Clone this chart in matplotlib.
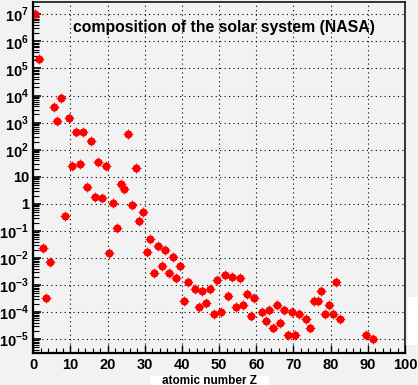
import matplotlib
matplotlib.use('Agg')
import matplotlib.pyplot as plt
import matplotlib.ticker as ticker
from matplotlib.patches import Rectangle
import numpy as np

plt.rcParams['font.family'] = ['Liberation Sans', 'DejaVu Sans']
plt.rcParams['font.weight'] = 'bold'
plt.rcParams['mathtext.fontset'] = 'custom'
plt.rcParams['mathtext.rm'] = 'Liberation Sans:bold'
plt.rcParams['mathtext.bf'] = 'Liberation Sans:bold'

# atomic number and relative abundance (H = 1e7)
Z = [1, 2, 3, 4, 5, 6, 7, 8, 9, 10,
     11, 12, 13, 14, 15, 16, 17, 18, 19, 20,
     21, 22, 23, 24, 25, 26, 27, 28, 29, 30,
     31, 32, 33, 34, 35, 36, 37, 38, 39, 40,
     41, 42, 44, 45, 46, 47, 48, 49, 50,
     51, 52, 53, 54, 55, 56, 57, 58, 59, 60,
     62, 63, 64, 65, 66, 67, 68, 69, 70,
     71, 72, 74, 75, 76, 77, 78, 79, 80,
     81, 82, 83, 90, 92]
abundance = [1.0e7, 2.2e5, 0.023, 3.2e-4, 0.007, 3700, 1150, 7900, 0.36, 1450,
             25, 440, 29, 440, 4.1, 205, 1.8, 34, 1.65, 25,
             0.015, 1.05, 0.125, 5.4, 3.4, 370, 0.89, 21, 0.23, 0.5,
             0.016, 0.05, 0.0028, 0.028, 0.0049, 0.02, 0.0028, 0.011, 0.0018, 0.0051,
             2.6e-4, 0.0013, 7.2e-4, 1.55e-4, 6.0e-4, 2.2e-4, 7.2e-4, 8.5e-5, 0.00155,
             1.0e-4, 0.0024, 4.0e-4, 0.0019, 1.55e-4, 0.0018, 1.85e-4, 4.7e-4, 7.2e-5, 3.3e-4,
             1.0e-4, 4.7e-5, 1.2e-4, 2.6e-5, 1.85e-4, 4.0e-5, 1.2e-4, 1.45e-5, 1.0e-4,
             1.45e-5, 8.5e-5, 5.6e-5, 2.6e-5, 2.6e-4, 2.6e-4, 5.9e-4, 8.5e-5, 1.85e-4,
             8.5e-5, 1.26e-3, 5.6e-5, 1.4e-5, 1.0e-5]
decades = list(range(-5, 8))

bg = '#f2f2f2'
fig = plt.figure(figsize=(4.18, 3.85), dpi=100, facecolor=bg)
ax = fig.add_axes([33.3/418, 1 - 352.7/385, (405 - 33.3)/418, (352.7 - 2)/385])
ax.set_facecolor(bg)

# histogram bin centres: bin Z spans [Z-1, Z]
xc = np.array(Z) - 0.5
ax.plot(xc, abundance, 'o', color='red', markersize=5.8, markeredgewidth=0)
ax.plot(xc, abundance, '+', color='red', markersize=7.2, markeredgewidth=0.6)

ax.set_yscale('log')
ax.set_xlim(0, 100)
ax.set_ylim(10**-5.5, 10**7.455)

ax.xaxis.set_major_locator(ticker.MultipleLocator(10))
ax.xaxis.set_minor_locator(ticker.MultipleLocator(2))
ax.yaxis.set_major_locator(ticker.FixedLocator([10.0**e for e in decades]))
minor = [m * 10.0**e for e in range(-6, 8) for m in range(2, 10)]
minor = [v for v in minor if 10**-5.5 <= v <= 10**7.455]
ax.yaxis.set_minor_locator(ticker.FixedLocator(minor))
ax.yaxis.set_minor_formatter(ticker.NullFormatter())


def ylab(v, pos):
    e = int(round(np.log10(v)))
    if e == 0:
        return '1'
    if e == 1:
        return '10'
    return r'$10^{%d}$' % e


ax.yaxis.set_major_formatter(ticker.FuncFormatter(ylab))

ax.tick_params(which='both', direction='in', top=False, right=False, color='black')
ax.tick_params(axis='y', which='major', length=6, width=1.2, labelsize=10.5, pad=3)
ax.tick_params(axis='y', which='minor', length=4.5, width=0.8)
ax.tick_params(axis='x', which='major', length=6, width=1.0, labelsize=10.5, pad=4)
ax.tick_params(axis='x', which='minor', length=3.5, width=0.8)
for lab in ax.get_xticklabels() + ax.get_yticklabels():
    lab.set_fontweight('bold')

ax.grid(True, which='major', linestyle=(0, (1, 3)), color='black', linewidth=0.8)

for side in ('left', 'bottom'):
    ax.spines[side].set_linewidth(1.6)
for side in ('top', 'right'):
    ax.spines[side].set_linewidth(1.1)

ax.text(0.513, 0.927, 'composition of the solar system (NASA)', transform=ax.transAxes,
        ha='center', va='center', fontsize=11.3, fontweight='bold')

# white boxes peeking out at the canvas edges
fig.patches.append(Rectangle((150/418, 0), 119/418, 9.5/385, transform=fig.transFigure,
                             facecolor='white', edgecolor='none', zorder=0))
fig.patches.append(Rectangle((408/418, 1 - 345/385), 10/418, 48/385, transform=fig.transFigure,
                             facecolor='white', edgecolor='none', zorder=0))
fig.text(209/418, 1 - 380.5/385, 'atomic number Z', ha='center', va='center',
         fontsize=8.5, fontweight='bold')

fig.savefig('out.png', dpi=100, facecolor=bg)
